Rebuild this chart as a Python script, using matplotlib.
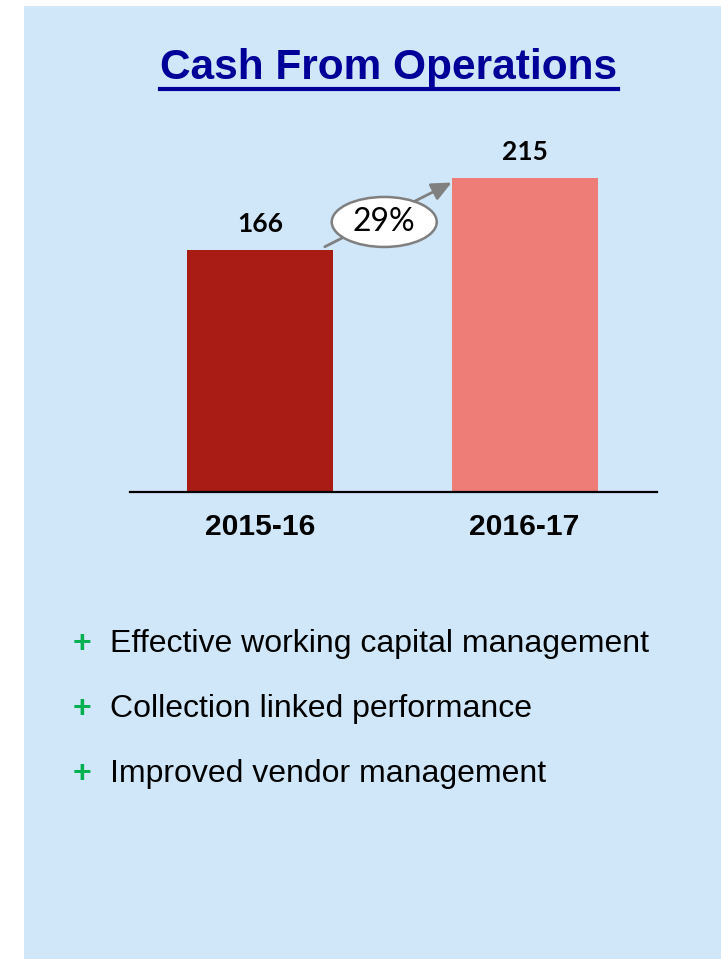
import matplotlib
matplotlib.use("Agg")
import matplotlib.pyplot as plt
from matplotlib.patches import Rectangle, Ellipse
from matplotlib.lines import Line2D
from matplotlib.transforms import ScaledTranslation

# --- Data ---
years = ["2015-16", "2016-17"]
cash = [166, 215]
growth_label = "29%"
bullets = [
    "Effective working capital management",
    "Collection linked performance",
    "Improved vendor management",
]
bar_colors = ["#A91C15", "#EE7C77"]

W, H = 721, 959
bg = "#D0E6F9"

fig = plt.figure(figsize=(W / 100, H / 100), dpi=100)
fig.patch.set_facecolor("white")

# light blue panel
fig.add_artist(Rectangle((24 / W, 0), 1 - 24 / W, 1 - 6 / H,
                         transform=fig.transFigure, facecolor=bg,
                         edgecolor="none", zorder=0))

# --- Title (underlined) ---
title = fig.text(389 / W, 1 - 79.5 / H, "Cash From Operations",
                 ha="center", va="baseline", fontsize=30.5, fontweight="bold",
                 family="Liberation Sans", color="#000099")
fig.canvas.draw()
bb = title.get_window_extent().transformed(fig.transFigure.inverted())
fig.add_artist(Line2D([bb.x0, bb.x1], [1 - 88.5 / H] * 2,
                      transform=fig.transFigure, color="#000099", lw=3))

# --- Bar chart ---
ax = fig.add_axes([130 / W, (H - 492) / H, 527 / W, 362 / H])
ax.patch.set_alpha(0)
x = range(len(years))
w = 0.551
ax.bar(x, cash, width=w, color=bar_colors, zorder=2)
ax.set_xlim(-0.49, 1.5)
ax.set_ylim(0, 248)
for s in ["top", "left", "right"]:
    ax.spines[s].set_visible(False)
ax.spines["bottom"].set_linewidth(1.6)
ax.spines["bottom"].set_color("black")
ax.set_yticks([])
ax.set_xticks(list(x))
ax.set_xticklabels(years, fontsize=21.6, fontweight="bold", family="Liberation Sans")
ax.tick_params(axis="x", length=0, pad=15)

for i, v in enumerate(cash):
    ax.annotate(str(v), (i, v), xytext=(0, 18.5), textcoords="offset points",
                ha="center", va="center", fontsize=19, fontweight="bold",
                family="Lato", color="black")

# growth arrow with ellipse label
start = (w / 2 - 0.03, cash[0] + 2)
end = (1 - w / 2, cash[1] - 3)
ax.annotate("", xy=end, xytext=start,
            arrowprops=dict(arrowstyle="-|>,head_length=1.2,head_width=0.55",
                            color="#808080", lw=2, shrinkA=0, shrinkB=0), zorder=3)
mx = (start[0] + end[0]) / 2 - 0.015
my = (start[1] + end[1]) / 2 - 5
oval = Ellipse((0, 0), 1.05, 0.50, facecolor="white", edgecolor="#7F7F7F", lw=1.8,
               transform=fig.dpi_scale_trans + ScaledTranslation(mx, my, ax.transData),
               zorder=4)
ax.add_patch(oval)
ax.text(mx, my, growth_label, ha="center", va="center", fontsize=23,
        family="Lato", color="black", zorder=5)

# --- Bullet points ---
for k, line in enumerate(bullets):
    yy = 1 - (652 + 65 * k) / H
    fig.text(81.5 / W, yy, "+", ha="center", va="baseline", fontsize=23,
             fontweight="bold", family="Liberation Sans", color="#00B050")
    fig.text(110 / W, yy, line, ha="left", va="baseline", fontsize=23,
             family="Liberation Sans", color="black")

fig.savefig("out.png", dpi=100, facecolor=fig.get_facecolor())
